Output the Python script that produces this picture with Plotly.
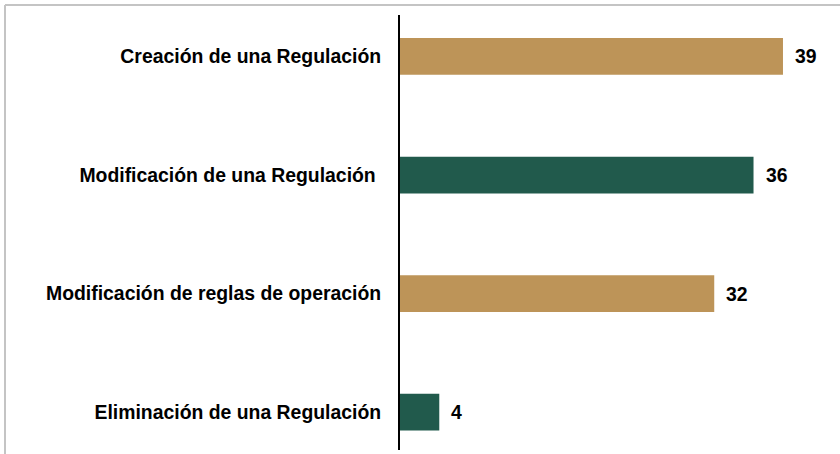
import plotly.graph_objects as go

categories = ["Creación de una Regulación", "Modificación de una Regulación ",
              "Modificación de reglas de operación", "Eliminación de una Regulación"]
values = [39, 36, 32, 4]
colors = ["#BD9458", "#215A4C", "#BD9458", "#215A4C"]

W, H = 840, 454
ml, mr, mt, mb = 400, 10, 15, 4
pw, ph = W - ml - mr, H - mt - mb
FS = 19.4

fig = go.Figure(go.Bar(
    y=categories, x=values, orientation="h",
    marker=dict(color=colors, line=dict(width=0)),
    width=0.31, hoverinfo="skip",
))

for c, v in zip(categories, values):
    fig.add_annotation(x=v, y=c, text=str(v), showarrow=False, xanchor="left",
                       xshift=10, font=dict(family="Liberation Sans", size=FS, color="#000", weight="bold"))

def px_x(p):
    return (p - ml) / pw

def px_y(p):
    return (H - mb - p) / ph

border = dict(color="#C4C4C4", width=2)
fig.add_shape(type="line", xref="paper", yref="paper", x0=px_x(5), x1=px_x(W + 5),
              y0=px_y(5), y1=px_y(5), line=border, layer="above")
fig.add_shape(type="line", xref="paper", yref="paper", x0=px_x(5), x1=px_x(5),
              y0=px_y(5), y1=px_y(H + 5), line=border, layer="above")

fig.update_layout(
    width=W, height=H, margin=dict(l=ml, r=mr, t=mt, b=mb),
    paper_bgcolor="white", plot_bgcolor="white", showlegend=False,
    font=dict(family="Liberation Sans", size=FS, color="#000", weight="bold"),
    xaxis=dict(range=[0, pw / 9.82], visible=False, fixedrange=True),
    yaxis=dict(range=[3.32, -0.35], showline=True, linecolor="#000", linewidth=2,
               ticks="", showgrid=False, zeroline=False, ticklabelstandoff=13,
               tickfont=dict(family="Liberation Sans", size=FS, color="#000", weight="bold"),
               fixedrange=True),
)

fig.write_html("out.html", config={"displayModeBar": False},
               post_script="document.body.style.margin='0';document.body.style.overflow='hidden';")
